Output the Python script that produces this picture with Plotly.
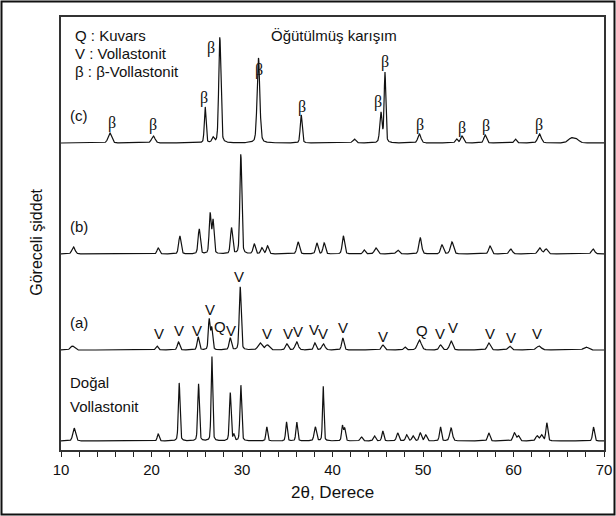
import numpy as np
import plotly.graph_objects as go

# ---- diffraction peaks (2theta in degrees, relative height, FWHM in degrees) ----
# (c) ground mixture, beta-wollastonite
c_pos = [15.4, 20.2, 25.93, 26.8, 27.55, 31.82, 36.54, 42.4, 45.35, 45.8, 49.6, 53.7, 54.3, 56.87, 60.2, 62.87, 66.4, 67.0]
c_hgt = [10, 7, 36, 5, 106, 85, 28, 4, 30, 70, 9, 4, 7, 8, 4, 9, 5, 3]
c_wid = [0.45, 0.45, 0.22, 0.3, 0.28, 0.35, 0.25, 0.4, 0.3, 0.22, 0.4, 0.3, 0.35, 0.35, 0.3, 0.45, 0.8, 0.6]

# (b)
b_pos = [11.38, 20.74, 23.13, 25.27, 26.48, 26.8, 28.84, 29.87, 31.35, 32.2, 32.82, 36.2, 38.27, 39.08, 41.2, 43.5, 44.8, 47.2, 49.7, 52.1, 53.2, 57.4, 59.7, 62.9, 63.6, 68.8]
b_hgt = [7, 6, 18, 25, 40, 33, 26, 100, 10, 6, 8, 12, 11, 11, 18, 4, 6, 4, 16, 9, 12, 8, 5, 6, 5, 5]
b_wid = [0.4, 0.3, 0.3, 0.28, 0.25, 0.25, 0.28, 0.25, 0.3, 0.3, 0.3, 0.35, 0.3, 0.3, 0.3, 0.3, 0.4, 0.4, 0.35, 0.35, 0.4, 0.35, 0.4, 0.45, 0.4, 0.4]

# (a)
a_pos = [11.27, 20.6, 22.98, 25.16, 26.37, 26.65, 28.7, 29.8, 32.0, 32.8, 34.95, 36.05, 38.05, 39.0, 41.14, 45.56, 48.0, 49.6, 51.93, 53.1, 57.27, 59.56, 62.8, 68.0]
a_hgt = [4, 4, 8, 13, 30, 22, 12, 63, 7, 5, 6, 8, 7, 6, 12, 5, 3, 10, 5, 9, 7, 4, 4, 3]
a_wid = [0.5, 0.3, 0.3, 0.28, 0.22, 0.25, 0.3, 0.25, 0.5, 0.5, 0.35, 0.4, 0.3, 0.4, 0.3, 0.35, 0.3, 0.5, 0.35, 0.4, 0.4, 0.4, 0.6, 0.6]

# natural wollastonite
n_pos = [11.45, 20.74, 23.06, 25.2, 26.67, 28.7, 29.1, 29.87, 32.74, 34.92, 36.05, 38.1, 38.97, 41.1, 41.35, 43.2, 44.64, 45.56, 47.2, 48.2, 48.9, 49.7, 50.3, 51.93, 53.1, 57.27, 60.1, 60.55, 62.6, 63.1, 63.68, 68.84]
n_hgt = [13, 7, 58, 57, 85, 48, 6, 56, 14, 19, 19, 14, 55, 15, 12, 4, 5, 10, 8, 6, 5, 8, 6, 14, 13, 8, 8, 5, 5, 6, 18, 14]
n_wid = [0.35, 0.25, 0.22, 0.22, 0.2, 0.22, 0.2, 0.22, 0.22, 0.22, 0.22, 0.3, 0.18, 0.22, 0.22, 0.3, 0.3, 0.25, 0.3, 0.3, 0.3, 0.3, 0.3, 0.25, 0.35, 0.3, 0.35, 0.3, 0.35, 0.35, 0.25, 0.25]

# vertical stacking of the four patterns
offsets = {"c": 307, "b": 196, "a": 100, "n": 9}

# ---- phase markers ----
beta_x = [15.69, 20.11, 25.82, 26.55, 31.93, 36.6, 45.08, 45.82, 49.69, 54.33, 56.91, 62.87]
beta_y = [327, 325, 352, 402, 380, 343, 348, 388, 325, 322, 324, 325]

a_lab = ["V", "V", "V", "V", "Q", "V", "V", "V", "V", "V", "V", "V",
         "V", "V", "Q", "V", "V", "V", "V", "V"]
a_lab_x = [20.85, 23.06, 25.08, 26.45, 27.59, 28.77, 29.69, 32.71, 35.03, 36.2, 37.97, 39.0,
           41.14, 45.56, 49.9, 51.93, 53.3, 57.35, 59.67, 62.57]
a_lab_y = [117, 120, 120, 141, 124, 120, 174, 117, 117, 119, 121, 117,
           123, 114, 120, 117, 123, 117, 113, 117]

tth = np.arange(10.0, 70.0001, 0.02)

W, H = 616, 516
ML, MR, MT, MB = 61, 12, 17, 66
PW, PH = W - ML - MR, H - MT - MB


def pattern(pos, hgt, wid, base):
    """Pseudo-Voigt sum of the listed reflections on a flat background."""
    y = np.full_like(tth, float(base))
    for p, h, w in zip(pos, hgt, wid):
        d = (tth - p) / (w / 2.0)
        g = np.exp(-np.log(2) * d ** 2)
        l = 1.0 / (1.0 + d ** 2)
        y += h * (0.7 * g + 0.3 * l)
    return y


fig = go.Figure()
for key, (pos, hgt, wid) in {"c": (c_pos, c_hgt, c_wid), "b": (b_pos, b_hgt, b_wid),
                             "a": (a_pos, a_hgt, a_wid), "n": (n_pos, n_hgt, n_wid)}.items():
    fig.add_trace(go.Scatter(x=tth, y=pattern(pos, hgt, wid, offsets[key]), mode="lines",
                             line=dict(color="#111111", width=1.2), hoverinfo="skip",
                             showlegend=False))

SANS = "Liberation Sans, Arial, sans-serif"
SERIF = "Liberation Serif, Times New Roman, serif"
ann = []
for x, y in zip(beta_x, beta_y):
    ann.append(dict(x=x, y=y, text="β", showarrow=False, xref="x", yref="y",
                    font=dict(family=SERIF, size=16, color="#111")))
for t, x, y in zip(a_lab, a_lab_x, a_lab_y):
    ann.append(dict(x=x, y=y, text=t, showarrow=False, xref="x", yref="y",
                    font=dict(family=SANS, size=15, color="#111")))

# legend block and pattern captions
for txt, y in [("Q : Kuvars", 415), ("V : Vollastonit", 397), ("β : β-Vollastonit", 379)]:
    ann.append(dict(x=11.35, y=y, text=txt, showarrow=False, xanchor="left", xref="x", yref="y",
                    font=dict(family=SANS, size=15, color="#111")))
ann.append(dict(x=33.0, y=415, text="Öğütülmüş karışım", showarrow=False, xanchor="left",
                xref="x", yref="y", font=dict(family=SANS, size=15, color="#111")))
for txt, y in [("(c)", 335), ("(b)", 224), ("(a)", 128)]:
    ann.append(dict(x=10.8, y=y, text=txt, showarrow=False, xanchor="left", xref="x", yref="y",
                    font=dict(family=SANS, size=15, color="#111")))
ann.append(dict(x=10.8, y=68, text="Doğal", showarrow=False, xanchor="left", xref="x", yref="y",
                font=dict(family=SANS, size=15, color="#111")))
ann.append(dict(x=10.8, y=44, text="Vollastonit", showarrow=False, xanchor="left", xref="x", yref="y",
                font=dict(family=SANS, size=15, color="#111")))

# axis titles
ann.append(dict(x=0.5, y=-0.098, xref="paper", yref="paper", text="2θ, Derece", showarrow=False,
                xanchor="center", yanchor="middle", font=dict(family=SANS, size=17, color="#111")))
ann.append(dict(x=-0.045, y=0.48, xref="paper", yref="paper", text="Göreceli şiddet", showarrow=False,
                textangle=-90, xanchor="center", yanchor="middle",
                font=dict(family=SANS, size=16, color="#111")))

# outer frame, expressed in plot-area fractions
fx0, fx1 = (1.5 - ML) / PW, (W - 1.5 - ML) / PW
fy0, fy1 = -(MB - 1.5) / PH, 1 + (MT - 1.5) / PH

fig.update_layout(
    width=W, height=H, autosize=False,
    margin=dict(l=ML, r=MR, t=MT, b=MB, pad=0, autoexpand=False),
    paper_bgcolor="white", plot_bgcolor="white",
    annotations=ann,
    shapes=[dict(type="rect", xref="paper", yref="paper",
                 x0=fx0, x1=fx1, y0=fy0, y1=fy1,
                 line=dict(color="#111", width=2), layer="above")],
    xaxis=dict(range=[10, 70], dtick=10, tick0=10, ticks="outside", ticklen=5, tickwidth=1,
               tickcolor="#222", showgrid=False, zeroline=False, showline=True, linecolor="#333",
               linewidth=1.5, mirror=True, automargin=False,
               tickfont=dict(family=SANS, size=15, color="#111"),
               minor=dict(dtick=2, tick0=10, ticks="outside", ticklen=5, tickcolor="#222",
                          showgrid=False)),
    yaxis=dict(range=[0, 433], showticklabels=False, ticks="", showgrid=False, zeroline=False,
               showline=True, linecolor="#333", linewidth=1.5, mirror=True, automargin=False),
)

fig.write_html("out.html")
